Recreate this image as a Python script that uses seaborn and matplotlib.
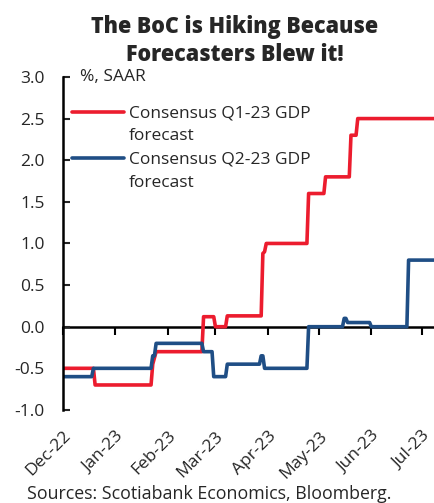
import matplotlib
matplotlib.use("Agg")
import matplotlib.pyplot as plt
import pandas as pd
import seaborn as sns
from matplotlib.offsetbox import HPacker

# ---- data ----
q1_dates = ["2022-12-01", "2022-12-19", "2022-12-20", "2023-01-22", "2023-01-23",
            "2023-01-25", "2023-02-21", "2023-02-22", "2023-02-28", "2023-03-01",
            "2023-03-07", "2023-03-08", "2023-03-28", "2023-03-29", "2023-03-30",
            "2023-03-31", "2023-04-24", "2023-04-25", "2023-05-04", "2023-05-05",
            "2023-05-19", "2023-05-20", "2023-05-23", "2023-05-24", "2023-07-08"]
q1_values = [-0.5, -0.5, -0.7, -0.7, -0.45,
             -0.3, -0.3, 0.12, 0.12, 0.0,
             0.0, 0.13, 0.13, 0.88, 0.9,
             1.0, 1.0, 1.6, 1.6, 1.8,
             1.8, 2.3, 2.3, 2.5, 2.5]

q2_dates = ["2022-12-01", "2022-12-18", "2022-12-19", "2023-01-22", "2023-01-23",
            "2023-01-24", "2023-01-25", "2023-02-21", "2023-02-22", "2023-02-27",
            "2023-02-28", "2023-03-07", "2023-03-08", "2023-03-27", "2023-03-28",
            "2023-03-29", "2023-03-30", "2023-04-24", "2023-04-25", "2023-05-15",
            "2023-05-16", "2023-05-17", "2023-05-18", "2023-05-31", "2023-06-01",
            "2023-06-22", "2023-06-23", "2023-07-08"]
q2_values = [-0.6, -0.6, -0.5, -0.5, -0.35,
             -0.35, -0.2, -0.2, -0.3, -0.3,
             -0.6, -0.6, -0.45, -0.45, -0.35,
             -0.35, -0.5, -0.5, 0.0, 0.0,
             0.1, 0.1, 0.05, 0.05, 0.0,
             0.0, 0.8, 0.8]

series_labels = ["Consensus Q1-23 GDP\nforecast", "Consensus Q2-23 GDP\nforecast"]
series_colors = ["#EC1C2E", "#1F4E85"]
tick_months = ["2022-12-01", "2023-01-01", "2023-02-01", "2023-03-01", "2023-04-01",
               "2023-05-01", "2023-06-01", "2023-07-01"]
tick_labels = ["Dec-22", "Jan-23", "Feb-23", "Mar-23", "Apr-23", "May-23", "Jun-23", "Jul-23"]
y_ticks = [-1.0, -0.5, 0.0, 0.5, 1.0, 1.5, 2.0, 2.5, 3.0]

title = "The BoC is Hiking Because\nForecasters Blew it!"
unit_text = "%, SAAR"
source_text = "Sources: Scotiabank Economics, Bloomberg."

# ---- style ----
sns.set_style("white")
plt.rcParams["font.family"] = ["Open Sans", "DejaVu Sans"]
FS = 12.5

fig = plt.figure(figsize=(4.34, 5.03), dpi=100)
ax = fig.add_axes([0.145, 0.185, 0.855, 0.662])

df1 = pd.DataFrame({"date": pd.to_datetime(q1_dates), "value": q1_values})
df2 = pd.DataFrame({"date": pd.to_datetime(q2_dates), "value": q2_values})
sns.lineplot(data=df1, x="date", y="value", ax=ax, color=series_colors[0],
             linewidth=2.6, label=series_labels[0], solid_joinstyle="round")
sns.lineplot(data=df2, x="date", y="value", ax=ax, color=series_colors[1],
             linewidth=2.6, label=series_labels[1], solid_joinstyle="round")

ax.set_xlim(pd.Timestamp("2022-12-01"), pd.Timestamp("2023-07-08"))
ax.set_ylim(-1.0, 3.0)
ax.set_xlabel("")
ax.set_ylabel("")

# y axis
ax.set_yticks(y_ticks)
ax.set_yticklabels([f"{v:.1f}" for v in y_ticks], fontsize=FS)
ax.tick_params(axis="y", direction="in", length=5, width=1.5, pad=13, left=True)
for s in ["top", "right", "bottom"]:
    ax.spines[s].set_visible(False)
ax.spines["left"].set_linewidth(1.8)
ax.spines["left"].set_color("black")

# x labels at bottom without tick marks
xt = pd.to_datetime(tick_months)
ax.set_xticks(xt)
ax.set_xticklabels(tick_labels, fontsize=FS, rotation=45, ha="right",
                   rotation_mode="anchor")
ax.tick_params(axis="x", length=0, pad=13)

# zero line with tick marks
sec = ax.secondary_xaxis(0.25)
sec.set_xticks(xt)
sec.set_xticklabels([])
sec.tick_params(axis="x", direction="out", length=6, width=1.5, color="black")
sec.spines["bottom"].set_linewidth(1.8)
sec.spines["bottom"].set_color("black")

leg = ax.legend(loc="upper left", bbox_to_anchor=(0.005, 0.935), frameon=False,
                fontsize=FS, handlelength=3.0, handletextpad=0.3,
                labelspacing=0.45, borderaxespad=0)
for t in leg.get_texts():
    t.set_linespacing(1.55)


def _align_rows(box):
    for child in box.get_children():
        if isinstance(child, HPacker) and any(
                type(c).__name__ == "TextArea" for c in child.get_children()):
            child.align = "top"
        else:
            _align_rows(child)


_align_rows(leg._legend_handle_box)

ax.text(0.046, 1.0, unit_text, transform=ax.transAxes, fontsize=FS,
        va="center", ha="left")

fig.text(0.54, 0.918, title, fontsize=15.5, fontweight="heavy", ha="center",
         va="center", linespacing=1.25)
fig.text(0.062, 0.008, source_text, fontsize=12.8, ha="left", va="baseline")

fig.savefig("out.png", dpi=100)
